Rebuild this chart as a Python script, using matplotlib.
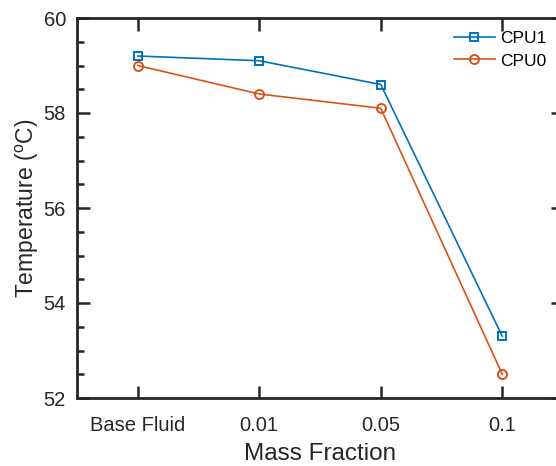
import matplotlib
matplotlib.use("Agg")
import matplotlib.pyplot as plt
from matplotlib.ticker import MultipleLocator

plt.rcParams['font.family'] = ['Liberation Sans', 'DejaVu Sans']
plt.rcParams['mathtext.fontset'] = 'custom'
plt.rcParams['mathtext.rm'] = 'Liberation Sans'

categories = ["Base Fluid", "0.01", "0.05", "0.1"]
cpu1 = [59.2, 59.1, 58.6, 53.3]
cpu0 = [59.0, 58.4, 58.1, 52.5]

blue = "#0072BD"
orange = "#D95319"
ink = "#262626"

fig = plt.figure(figsize=(5.56, 4.66), dpi=100)
ax = fig.add_axes([77/556, 68/466, 486/556, 380/466])

x = list(range(len(categories)))
ax.plot(x, cpu1, color=blue, lw=1.2, marker="s", ms=6, mfc="none", mew=1.4, label="CPU1")
ax.plot(x, cpu0, color=orange, lw=1.2, marker="o", ms=6.5, mfc="none", mew=1.4, label="CPU0")

ax.set_xlim(-0.5, 3.5)
ax.set_ylim(52, 60)
ax.set_xticks(x)
ax.set_xticklabels(categories)
ax.yaxis.set_major_locator(MultipleLocator(2))
ax.yaxis.set_minor_locator(MultipleLocator(0.5))

for s in ax.spines.values():
    s.set_linewidth(2.0)
    s.set_color(ink)
ax.tick_params(which="both", direction="in", top=True, right=True,
               width=1.8, color=ink, labelsize=14.5, labelcolor=ink)
ax.tick_params(which="major", length=9)
ax.tick_params(which="minor", length=5)
ax.tick_params(axis="x", pad=13)
ax.tick_params(axis="y", pad=8)

ax.set_xlabel("Mass Fraction", fontsize=17.5, color=ink, labelpad=6)
ax.set_ylabel(r"Temperature ($^{\rm o}$C)", fontsize=16.5, color=ink, labelpad=2)

ax.legend(loc="upper left", bbox_to_anchor=(0.775, 0.965), frameon=False,
          fontsize=12.5, handlelength=2.4, handletextpad=0.3, labelspacing=0.4,
          borderpad=0, borderaxespad=0)

fig.savefig("out.png", dpi=100)
